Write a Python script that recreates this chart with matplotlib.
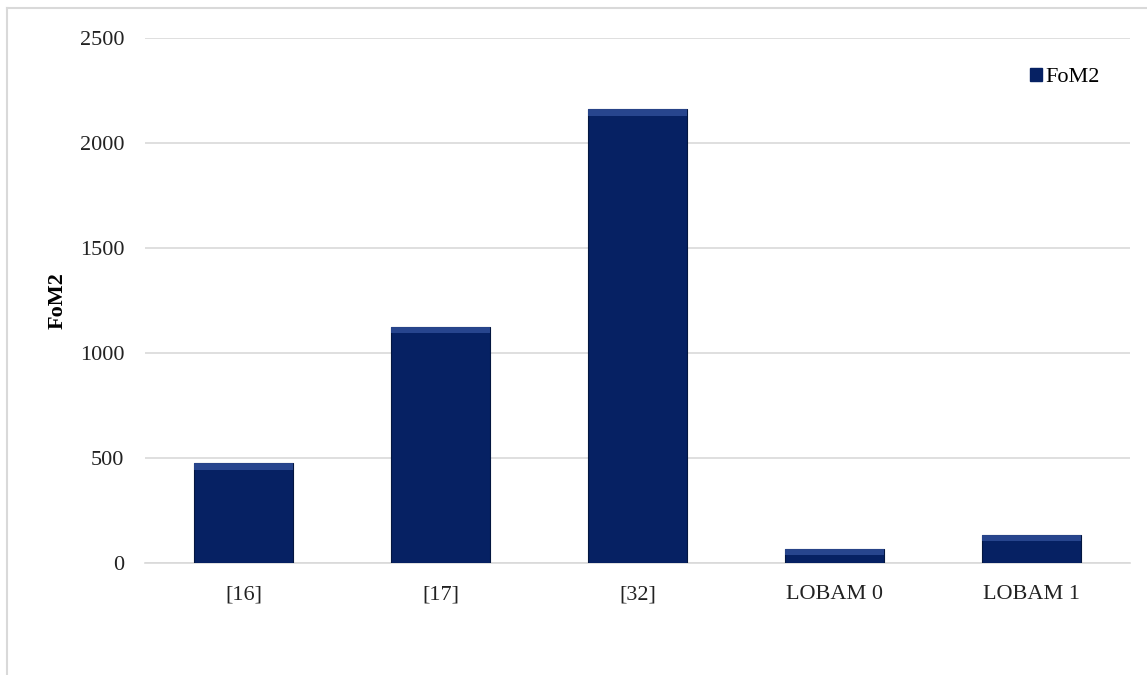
import matplotlib.pyplot as plt
from matplotlib.lines import Line2D

# chart data
categories = ['[16]', '[17]', '[32]', 'LOBAM 0', 'LOBAM 1']
fom2 = [475, 1125, 2160, 65, 135]
yticks = [0, 500, 1000, 1500, 2000, 2500]

plt.rcParams['font.family'] = ['Liberation Serif', 'DejaVu Serif']

fig = plt.figure(figsize=(11.47, 6.75), dpi=100)
ax = fig.add_axes([145 / 1147, 1 - 563 / 675, 985 / 1147, 525 / 675])

x = list(range(len(categories)))
bar_color = '#062163'
# soft shadow behind each bar
ax.bar([i + 0.008 for i in x], fom2, width=0.5, color='#c8c8c8', zorder=2)
ax.bar(x, fom2, width=0.5, color=bar_color, edgecolor='#031640', linewidth=0.8, zorder=3)
# bevel highlight on the top of each bar
bevel = [min(30, v * 0.4) for v in fom2]
ax.bar(x, bevel, bottom=[v - b for v, b in zip(fom2, bevel)], width=0.5,
       color='#2e4c96', linewidth=0, zorder=4, alpha=0.85)

ax.set_xlim(-0.5, len(categories) - 0.5)
ax.set_ylim(0, 2500)
ax.set_yticks(yticks)
ax.set_xticks(x)
ax.set_xticklabels(categories)
ax.tick_params(axis='both', length=0, labelsize=16, colors='#222222')
ax.tick_params(axis='y', pad=15)
ax.tick_params(axis='x', pad=16)
ax.yaxis.grid(True, color='#d9d9d9', linewidth=1.2, zorder=0)
ax.set_axisbelow(True)
for s in ['top', 'right', 'left']:
    ax.spines[s].set_visible(False)
ax.spines['bottom'].set_color('#d9d9d9')
ax.spines['bottom'].set_linewidth(1.2)

ax.set_ylabel('FoM2', fontsize=16, fontweight='bold', labelpad=9)

leg = ax.legend([plt.Rectangle((0, 0), 1, 1, color=bar_color)], ['FoM2'],
                loc='center right', bbox_to_anchor=(0.969, 0.925), frameon=False,
                fontsize=16, handlelength=0.55, handleheight=0.55, handletextpad=0.15,
                borderpad=0, borderaxespad=0)

# outer chart border (left and top)
fig.add_artist(Line2D([7 / 1147, 7 / 1147], [0, 1 - 8 / 675], color='#d9d9d9', lw=1.5))
fig.add_artist(Line2D([7 / 1147, 1], [1 - 8 / 675, 1 - 8 / 675], color='#d9d9d9', lw=1.5))

fig.savefig('out.png', dpi=100)
